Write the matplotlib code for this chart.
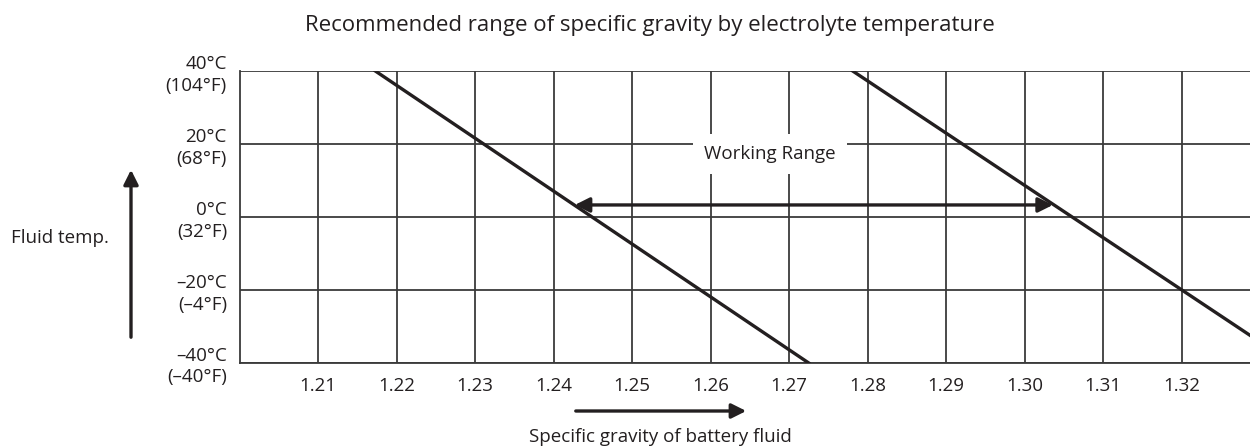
import matplotlib.pyplot as plt

plt.rcParams['font.family'] = ['Open Sans', 'DejaVu Sans']

# specific gravity grid and temperature grid
gravity_ticks = [1.21, 1.22, 1.23, 1.24, 1.25, 1.26, 1.27, 1.28, 1.29, 1.30, 1.31, 1.32]
temp_ticks = [-40, -20, 0, 20, 40]
temp_labels = ['\u201340°C\n(\u201340°F)', '\u201320°C\n(\u20134°F)', '0°C\n(32°F)',
               '20°C\n(68°F)', '40°C\n(104°F)']

# boundary lines: (gravity at 40°C, gravity at -40°C)
lower_temp = [40, -40]
lower_gravity = [1.2173, 1.2725]
upper_temp = [40, -40]
upper_gravity = [1.2781, 1.3340]

# working range arrow
range_temp = 3.3
range_left = 1.2427
range_right = 1.3036

fig = plt.figure(figsize=(12.5, 4.46), dpi=100)
ax = fig.add_axes([0.1916, 0.1861, 0.8084, 0.6547])
ax.set_xlim(1.20, 1.3287)
ax.set_ylim(-40, 40)

grid_c = '#3a3a3a'
for g in gravity_ticks:
    ax.axvline(g, color=grid_c, lw=1.3, zorder=1)
for t in temp_ticks:
    ax.axhline(t, color=grid_c, lw=1.3, zorder=1)

for s in ['top', 'right']:
    ax.spines[s].set_visible(False)
for s in ['left', 'bottom']:
    ax.spines[s].set_color(grid_c)
    ax.spines[s].set_linewidth(1.3)

ax.set_xticks(gravity_ticks)
ax.set_xticklabels([f'{g:.2f}' for g in gravity_ticks])
ax.set_yticks(temp_ticks)
ax.set_yticklabels(temp_labels, linespacing=1.25)
ax.tick_params(length=0, labelsize=13.5, colors='#231f20')
ax.tick_params(axis='x', pad=10)
ax.tick_params(axis='y', pad=9)

ax.plot(lower_gravity, lower_temp, color='#231f20', lw=2.4, zorder=3)
ax.plot(upper_gravity, upper_temp, color='#231f20', lw=2.4, zorder=3)

ax.annotate('', xy=(range_left, range_temp), xytext=(range_right, range_temp),
            arrowprops=dict(arrowstyle='<|-|>', color='#231f20', lw=2.4,
                            mutation_scale=22, shrinkA=0, shrinkB=0), zorder=4)
ax.text(1.2676, 17.3, 'Working Range', ha='center', va='center', fontsize=13.5,
        color='#231f20', zorder=5,
        bbox=dict(facecolor='white', edgecolor='none', pad=8))

# labels and direction arrows outside the plot
fig.text(650 / 1250, 1 - 25 / 446, 'Recommended range of specific gravity by electrolyte temperature',
         ha='center', va='center', fontsize=16, color='#231f20')
fig.text(60 / 1250, 1 - 238 / 446, 'Fluid temp.', ha='center', va='center',
         fontsize=13.5, color='#231f20')
fig.text(660 / 1250, 1 - 437 / 446, 'Specific gravity of battery fluid', ha='center',
         va='center', fontsize=13.5, color='#231f20')

fig.patches.append(plt.matplotlib.patches.FancyArrowPatch(
    (131 / 1250, 1 - 340 / 446), (131 / 1250, 1 - 167 / 446), transform=fig.transFigure,
    arrowstyle='-|>', mutation_scale=22, color='#231f20', lw=2.4))
fig.patches.append(plt.matplotlib.patches.FancyArrowPatch(
    (573 / 1250, 1 - 411 / 446), (749 / 1250, 1 - 411 / 446), transform=fig.transFigure,
    arrowstyle='-|>', mutation_scale=22, color='#231f20', lw=2.4))

fig.savefig('out.png', dpi=100)
